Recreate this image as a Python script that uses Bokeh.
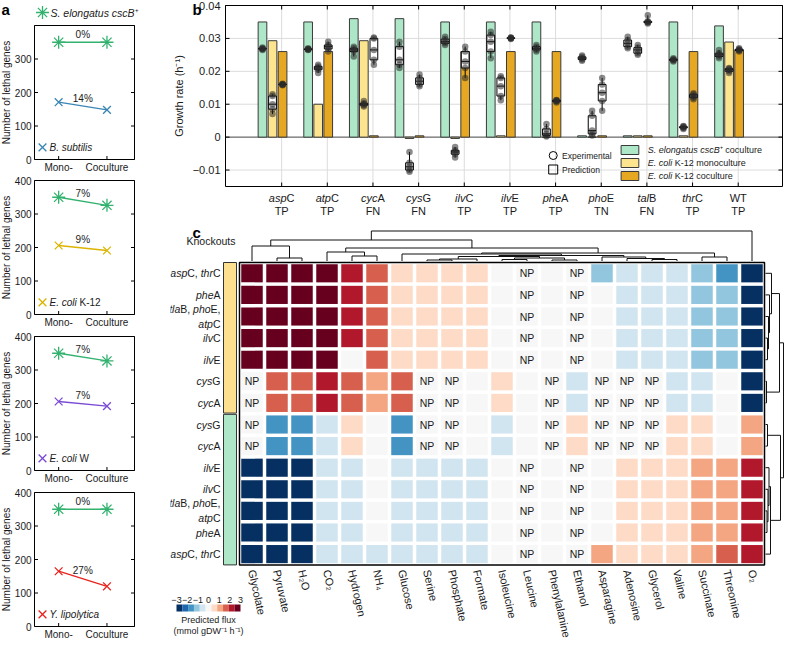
import numpy as np
from bokeh.plotting import figure
from bokeh.layouts import row, column
from bokeh.models import Range1d, Label, LinearColorMapper, ColumnDataSource
from bokeh.core.properties import value
from bokeh.embed import file_html
from bokeh.resources import INLINE

FONT = "Liberation Sans"
INK = "#1a1a1a"

# ---------------- panel a data ----------------
CULTURE_X = [1, 2]
CULTURE_LABELS = ["Mono-", "Coculture"]
LETHAL_TICKS = [0, 100, 200, 300, 400]
SELONG_LETHAL = [[350, 350], [350, 326], [350, 327], [350, 350]]
SELONG_CHANGE = ["0%", "7%", "7%", "0%"]
PARTNER_LETHAL = [[171, 148], [206, 191], [206, 192], [165, 120]]
PARTNER_CHANGE = ["14%", "9%", "7%", "27%"]
PARTNER_ITALIC = ["B. subtilis", "E. coli", "E. coli", "Y. lipolytica"]
PARTNER_PLAIN = ["", " K-12", " W", ""]
PARTNER_COLORS = ["#3a86b4", "#dcb400", "#7b4bd4", "#e8231d"]
SELONG_COLOR = "#33b26f"

# ---------------- panel b data ----------------
GENES = ["aspC", "atpC", "cycA", "cysG", "ilvC", "ilvE", "pheA", "phoE", "talB", "thrC", "WT"]
CALLS = ["TP", "TP", "FN", "FN", "TP", "TP", "TP", "TN", "FN", "TP", "TP"]
RATE_TICKS = [-0.01, 0, 0.01, 0.02, 0.03, 0.04]
PRED_SELONG_CO = [0.035, 0.035, 0.036, 0.036, 0.035, 0.035, 0.035, 0.0004, 0.0004, 0.035, 0.0338]
PRED_ECOLI_MONO = [0.0293, 0.010, 0.0293, -0.0004, -0.0004, 0.0004, 0.0, 0.0, 0.0004, 0.0004, 0.0289]
PRED_ECOLI_CO = [0.026, 0.026, 0.0004, 0.0004, 0.026, 0.026, 0.026, 0.0004, 0.0004, 0.026, 0.0265]
EXP_SELONG_CO = [
    [0.0265, 0.0268, 0.027, 0.0272, 0.0268],
    [0.0265, 0.0267, 0.0268, 0.0266, 0.027],
    [0.0245, 0.026, 0.0265, 0.027, 0.0275],
    [0.021, 0.022, 0.0235, 0.0275, 0.029],
    [0.028, 0.0285, 0.029, 0.0298, 0.0305],
    [0.024, 0.026, 0.029, 0.031, 0.032],
    [0.026, 0.0265, 0.027, 0.0275, 0.028],
    [0.0232, 0.0236, 0.024, 0.0244, 0.0248],
    [0.027, 0.0275, 0.0285, 0.0295, 0.0305],
    [0.023, 0.0233, 0.0235, 0.0237, 0.024],
    [0.024, 0.0245, 0.025, 0.0255, 0.0265],
]
EXP_ECOLI_MONO = [
    [0.007, 0.0085, 0.010, 0.0125, 0.013],
    [0.0195, 0.0205, 0.021, 0.0215, 0.022],
    [0.0093, 0.0097, 0.010, 0.0103, 0.011],
    [-0.0105, -0.010, -0.009, -0.0078, -0.0045],
    [-0.0062, -0.0052, -0.0045, -0.004, -0.003],
    [0.0112, 0.0125, 0.0155, 0.018, 0.0185],
    [0.0002, 0.0005, 0.001, 0.0025, 0.004],
    [0.0005, 0.001, 0.002, 0.0065, 0.008],
    [0.025, 0.0255, 0.0265, 0.0272, 0.028],
    [0.0025, 0.0028, 0.003, 0.0032, 0.0034],
    [0.0195, 0.020, 0.0205, 0.0208, 0.021],
]
EXP_ECOLI_CO = [
    [0.0158, 0.016, 0.0161, 0.016, 0.0162],
    [0.026, 0.0268, 0.0275, 0.028, 0.029],
    [0.022, 0.0235, 0.0265, 0.030, 0.0303],
    [0.0155, 0.016, 0.017, 0.018, 0.019],
    [0.018, 0.021, 0.023, 0.026, 0.0275],
    [0.0298, 0.030, 0.0302, 0.0301, 0.0303],
    [0.0105, 0.0108, 0.011, 0.0112, 0.0113],
    [0.008, 0.011, 0.0135, 0.016, 0.018],
    [0.0345, 0.0348, 0.035, 0.0352, 0.037],
    [0.0115, 0.012, 0.0125, 0.013, 0.0133],
    [0.026, 0.0263, 0.0265, 0.0267, 0.027],
]
BAR_COLORS = ["#aee6c8", "#fde58f", "#e6a823"]

# ---------------- panel c data ----------------
NUTRIENTS = ["Glycolate", "Pyruvate", "H\u2082O", "CO\u2082", "Hydrogen", "NH\u2084", "Glucose",
             "Serine", "Phosphate", "Formate", "Isoleucine", "Leucine", "Phenylalanine",
             "Ethanol", "Asparagine", "Adenosine", "Glycerol", "Valine", "Succinate",
             "Threonine", "O\u2082"]
KO_ECOLI = [["aspC", "thrC"], ["pheA"], ["tlaB", "phoE", "atpC"], ["ilvC"], ["ilvE"], ["cysG"], ["cycA"]]
KO_SELONG = [["cysG"], ["cycA"], ["ilvE"], ["ilvC"], ["tlaB", "phoE", "atpC"], ["pheA"], ["aspC", "thrC"]]
N = np.nan
FLUX_ECOLI = [
    [3, 3, 3, 3, 2.4, 1.8, 0.6, 0.6, 0.6, 0.6, 0, N, 0, N, -1.2, -0.6, -0.6, -0.6, -1.2, -1.8, -3],
    [3, 3, 3, 3, 2.4, 1.8, 0.6, 0.6, 0.6, 0.6, 0, N, 0, N, 0, -0.6, -0.6, -0.6, -1.2, -1.2, -3],
    [3, 3, 3, 3, 2.4, 1.8, 0.6, 0.6, 0.6, 0.6, 0, N, 0, N, 0, -0.6, -0.6, -0.6, -1.2, -1.2, -3],
    [3, 3, 3, 3, 2.4, 1.8, 0.6, 0.6, 0.6, 0.6, 0, N, 0, N, 0, -0.6, -0.6, -0.6, -1.2, -1.2, -3],
    [3, 3, 3, 3, 0, 1.8, 0.6, 0.6, 0.6, 0.6, 0, N, 0, N, 0, -0.6, -0.6, -0.6, -1.2, -1.2, -3],
    [N, 1.8, 1.8, 2.4, 1.8, 1.2, 1.8, N, N, 0, 0.6, 0, N, -0.6, N, N, N, -0.6, -0.6, 0, -3],
    [N, 1.8, 1.8, 2.4, 1.8, 1.2, 1.8, N, N, 0, 0.6, 0, N, -0.6, N, N, N, -0.6, -0.6, 0, -3],
]
FLUX_SELONG = [
    [N, -1.8, -1.8, -0.6, 0.6, 0, -1.8, N, N, 0, -0.6, 0, N, 0.6, N, N, N, 0.6, 0.6, 0, 1.2],
    [N, -1.8, -1.8, -0.6, 0.6, 0, -1.8, N, N, 0, -0.6, 0, N, 0.6, N, N, N, 0.6, 0.6, 0, 1.2],
    [-3, -3, -3, -0.6, -0.6, 0, -0.6, -0.6, -0.6, -0.6, 0, N, 0, N, 0, 0.6, 0.6, 0.6, 1.2, 1.2, 2.4],
    [-3, -3, -3, -0.6, -0.6, 0, -0.6, -0.6, -0.6, -0.6, 0, N, 0, N, 0, 0.6, 0.6, 0.6, 1.2, 1.2, 2.4],
    [-3, -3, -3, -0.6, -0.6, 0, -0.6, -0.6, -0.6, -0.6, 0, N, 0, N, 0, 0.6, 0.6, 0.6, 1.2, 1.2, 2.4],
    [-3, -3, -3, -0.6, -0.6, 0, -0.6, -0.6, -0.6, -0.6, 0, N, 0, N, 0, 0.6, 0.6, 0.6, 1.2, 1.2, 2.4],
    [-3, -3, -3, -0.6, -0.6, -0.6, -0.6, -0.6, -0.6, -0.6, 0, N, 0, N, 1.2, 0.6, 0.6, 0.6, 1.2, 1.8, 2.4],
]
# linkage trees: (height, left, right); leaves are indices
COL_TREE = (30, (21, (15, 0, (3, 1, 2)),
                 (13, (9, 3, (5, 4, 5)),
                  (8, (7, 6, (5.5, (4.5, (2, (1, 7, 8), 9), (3, (1.5, 10, 11), (1, 12, 13))),
                              (4, 14, (2.5, 15, (1.5, 16, 17))))),
                   (4, 18, 19)))),
            20)
ROW_TREE = (18, (14, (6, 0, (4, 1, (3, 2, (2, 3, 4)))), (1, 5, 6)),
            (15, (2, 7, 8), (5, (3.5, 9, (2.5, 10, (1.5, 11, 12))), 13)))
FLUX_TICKS = [-3, -2, -1, 0, 1, 2, 3]
FLUX_PALETTE = ['#053061', '#2166ac', '#4393c3', '#92c5de', '#d1e5f0', '#f7f7f7',
                '#fddbc7', '#f4a582', '#d6604d', '#b2182b', '#67001f']

# ---------------- helpers ----------------
CW = {' ': 278, '!': 278, '%': 889, '(': 333, ')': 333, '+': 584, ',': 278, '-': 333, '.': 278,
      '/': 278, ':': 278, 'A': 667, 'B': 667, 'C': 722, 'D': 722, 'E': 667, 'F': 611, 'G': 778,
      'H': 722, 'I': 278, 'J': 500, 'K': 667, 'L': 556, 'M': 833, 'N': 722, 'O': 778, 'P': 667,
      'Q': 778, 'R': 722, 'S': 667, 'T': 611, 'U': 722, 'V': 667, 'W': 944, 'X': 667, 'Y': 667,
      'Z': 611, 'a': 556, 'b': 556, 'c': 500, 'd': 556, 'e': 556, 'f': 278, 'g': 556, 'h': 556,
      'i': 222, 'j': 222, 'k': 500, 'l': 222, 'm': 833, 'n': 556, 'o': 556, 'p': 556, 'q': 556,
      'r': 333, 's': 500, 't': 278, 'u': 556, 'v': 500, 'w': 722, 'x': 500, 'y': 500, 'z': 500,
      '\u207a': 350, '\u207b': 350, '\u00b9': 350}


def tw(s, size):
    return sum(CW.get(c, 556) for c in s) / 1000.0 * size


def rich(p, pieces, x, y, size, align="left", baseline="middle", color=INK):
    total = sum(tw(t, size) for t, _ in pieces)
    off = {"left": 0.0, "right": -total, "center": -total / 2.0}[align]
    for t, st in pieces:
        lead = len(t) - len(t.lstrip(" "))
        s = t.strip(" ")
        if s:
            p.add_layout(Label(x=x, y=y, x_offset=off + tw(t[:lead], size),
                               text=s, text_font=FONT, text_font_size=f"{size}px",
                               text_font_style=st, text_color=color, text_align="left",
                               text_baseline=baseline))
        off += tw(t, size)


def gene_pieces(genes, trailing=""):
    out = []
    for k, g in enumerate(genes):
        if k:
            out.append((", ", "normal"))
        if g == "WT":
            out.append((g, "normal"))
        else:
            out += [(g[:-1], "italic"), (g[-1], "normal")]
    if trailing:
        out.append((trailing, "normal"))
    return out


def dendro(node, segs):
    if isinstance(node, int):
        return float(node), 0.0
    h, a, b = node
    pa, ha = dendro(a, segs)
    pb_, hb = dendro(b, segs)
    segs += [(pa, ha, pa, h), (pb_, hb, pb_, h), (pa, h, pb_, h)]
    return (pa + pb_) / 2.0, h


def make_fig(width, height, box, xlim, ylim):
    """Figure whose frame is the whole canvas; the data box sits at pixel box (l, t, r, b)."""
    l, t, r, b = box
    sx = (xlim[1] - xlim[0]) / float(r - l)
    sy = (ylim[1] - ylim[0]) / float(b - t)
    x0 = xlim[0] - l * sx
    y1 = ylim[1] + t * sy
    p = figure(width=width, height=height,
               x_range=Range1d(x0, xlim[1] + (width - r) * sx),
               y_range=Range1d(ylim[0] - (height - b) * sy, y1),
               output_backend="svg", toolbar_location=None, title=None, min_border=0,
               x_axis_location=None, y_axis_location=None)
    p.grid.visible = False
    p.outline_line_color = None
    fx = lambda px: x0 + px * sx
    fy = lambda py: y1 - py * sy
    return p, fx, fy, sx, sy


def txt(p, xs, ys, texts, size, align="center", baseline="middle", angle=0.0, style="normal",
        color=INK):
    p.text(x=list(xs), y=list(ys), text=list(texts), angle=angle, text_font=value(FONT),
           text_font_size=value(f"{size}px"), text_font_style=style, text_align=align,
           text_baseline=baseline, text_color=color)


def box_axes(p, xlim, ylim, sx, sy, xticks, yticks, tick=3.5, top_ticks=False, lw=1):
    n, m = len(yticks), len(xticks)
    p.segment([xlim[0]] * n, yticks, [xlim[0] + tick * sx] * n, yticks, line_color="black", line_width=lw)
    p.segment([xlim[1]] * n, yticks, [xlim[1] - tick * sx] * n, yticks, line_color="black", line_width=lw)
    p.segment(xticks, [ylim[0]] * m, xticks, [ylim[0] + tick * sy] * m, line_color="black", line_width=lw)
    if top_ticks:
        p.segment(xticks, [ylim[1]] * m, xticks, [ylim[1] - tick * sy] * m, line_color="black", line_width=lw)
    p.quad(left=xlim[0], right=xlim[1], bottom=ylim[0], top=ylim[1], fill_color=None,
           line_color="black", line_width=lw)


# ---------------- panel a ----------------
AX_XLIM = (0.5, 2.57)
AX_YLIM = (0, 400)
a_figs = []
for k in range(4):
    h = 172 if k == 0 else 156
    bt = 25 if k == 0 else 8
    box = (34, bt, 134, bt + 134)
    p, fx, fy, sx, sy = make_fig(170, h, box, AX_XLIM, AX_YLIM)
    sel = SELONG_LETHAL[k]
    par = PARTNER_LETHAL[k]
    col = PARTNER_COLORS[k]
    box_axes(p, AX_XLIM, AX_YLIM, sx, sy, CULTURE_X, LETHAL_TICKS)
    yt = [t for t in LETHAL_TICKS if not (k == 0 and t == 400)]
    txt(p, [AX_XLIM[0] - 3 * sx] * len(yt), yt, [str(t) for t in yt], 10, align="right")
    txt(p, CULTURE_X, [AX_YLIM[0] - 8 * sy] * 2, CULTURE_LABELS, 10)
    txt(p, [fx(6)], [np.mean(AX_YLIM)], ["Number of lethal genes"], 10, angle=np.pi / 2)

    p.line(CULTURE_X, sel, line_color=SELONG_COLOR, line_width=1.3)
    p.scatter(CULTURE_X, sel, marker="asterisk", size=13, line_color=SELONG_COLOR, line_width=1.3)
    p.line(CULTURE_X, par, line_color=col, line_width=1.3)
    p.scatter(CULTURE_X, par, marker="x", size=11, line_color=col, line_width=1.3)
    txt(p, [1.5, 1.5], [np.mean(sel) + 22, np.mean(par) + 24],
        [SELONG_CHANGE[k], PARTNER_CHANGE[k]], 10)
    p.scatter([fx(42)], [36], marker="x", size=11, line_color=col, line_width=1.3)
    pieces = [(PARTNER_ITALIC[k], "italic")]
    if PARTNER_PLAIN[k]:
        pieces.append((PARTNER_PLAIN[k], "normal"))
    rich(p, pieces, fx(49), 36, 10)
    if k == 0:
        p.scatter([fx(42)], [fy(12)], marker="asterisk", size=13, line_color=SELONG_COLOR,
                  line_width=1.3)
        rich(p, [("S. elongatus cscB", "italic"), ("\u207a", "normal")], fx(50), fy(12), 10.5)
        txt(p, [fx(1)], [fy(0)], ["a"], 15, align="left", baseline="top", style="bold",
            color="black")
    a_figs.append(p)

# ---------------- panel b ----------------
BX_XLIM = (-0.23, 11.97)
BX_YLIM = (-0.015, 0.04)
pb, fxb, fyb, sxb, syb = make_fig(614, 222, (55, 5, 612, 186), BX_XLIM, BX_YLIM)
XT = list(range(1, 12))
# grid
pb.segment(XT, [BX_YLIM[0]] * 11, XT, [BX_YLIM[1]] * 11, line_color="#dcdcdc", line_width=1)
pb.segment([BX_XLIM[0]] * 6, RATE_TICKS, [BX_XLIM[1]] * 6, RATE_TICKS, line_color="#dcdcdc",
           line_width=1)
pb.segment([BX_XLIM[0]], [0], [BX_XLIM[1]], [0], line_color="#555555", line_width=1)

OFFS = [-0.42, -0.2, 0.02]
BW = 0.19
for c, pred in enumerate([PRED_SELONG_CO, PRED_ECOLI_MONO, PRED_ECOLI_CO]):
    xs = np.arange(1, 12) + OFFS[c]
    pb.vbar(x=xs, top=pred, bottom=0, width=BW, fill_color=BAR_COLORS[c],
            line_color="#3a3a3a", line_width=1)
for c, exp in enumerate([EXP_SELONG_CO, EXP_ECOLI_MONO, EXP_ECOLI_CO]):
    xs = np.arange(1, 12) + OFFS[c]
    q = np.array([np.percentile(v, [25, 50, 75]) for v in exp])
    lo = np.array([min(v) for v in exp])
    hi = np.array([max(v) for v in exp])
    bw = 0.17
    pb.segment(xs, lo, xs, hi, line_color="black", line_width=1)
    pb.quad(left=xs - bw / 2, right=xs + bw / 2, bottom=q[:, 0], top=q[:, 2],
            fill_color="white", line_color="black", line_width=1)
    pb.segment(xs - bw / 2, q[:, 1], xs + bw / 2, q[:, 1], line_color="black", line_width=1)
    dx, dy = [], []
    for kk, v in enumerate(exp):
        dx += [xs[kk]] * len(v)
        dy += list(v)
    pb.scatter(dx, dy, size=6.5, fill_color="#2a2a2a", fill_alpha=0.55, line_color=None)

box_axes(pb, BX_XLIM, BX_YLIM, sxb, syb, XT, RATE_TICKS, tick=4, top_ticks=True)
rate_labels = ["0" if t == 0 else (("\u2212%.2f" % -t) if t < 0 else "%.2f" % t) for t in RATE_TICKS]
txt(pb, [BX_XLIM[0] - 5 * sxb] * 6, RATE_TICKS, rate_labels, 11, align="right")
txt(pb, [fxb(8)], [np.mean(BX_YLIM)], ["Growth rate (h\u207b\u00b9)"], 11, angle=np.pi / 2)
for k, g in enumerate(GENES):
    rich(pb, gene_pieces([g]), k + 1, fyb(197), 11, align="center")
txt(pb, XT, [fyb(210)] * 11, CALLS, 11)


def bx(px):
    return BX_XLIM[0] + (px - 233) * (BX_XLIM[1] - BX_XLIM[0]) / 566.0


def by(py):
    return BX_YLIM[1] - (py - 13) * (BX_YLIM[1] - BX_YLIM[0]) / 181.0


pb.scatter([bx(566)], [by(163)], marker="circle", size=8, fill_color=None, line_color="black")
pb.scatter([bx(566)], [by(177)], marker="square", size=9, fill_color=None, line_color="black")
rich(pb, [("Experimental", "normal")], bx(575), by(163), 8.5)
rich(pb, [("Prediction", "normal")], bx(575), by(177), 8.5)
LEG_TEXT = [
    [("S. elongatus cscB", "italic"), ("\u207a", "normal"), (" coculture", "normal")],
    [("E. coli", "italic"), (" K-12 monoculture", "normal")],
    [("E. coli", "italic"), (" K-12 coculture", "normal")],
]
for c in range(3):
    t = 153 + 13 * c
    pb.quad(left=bx(635), right=bx(653), top=by(t), bottom=by(t + 9),
            fill_color=BAR_COLORS[c], line_color="#3a3a3a")
    rich(pb, LEG_TEXT[c], bx(662), by(t + 4.5), 9)
txt(pb, [fxb(22)], [fyb(0)], ["b"], 15, align="left", baseline="top", style="bold", color="black")

# ---------------- panel c ----------------
FLUX = FLUX_ECOLI + FLUX_SELONG
KO = KO_ECOLI + KO_SELONG
NR, NC = len(FLUX), len(NUTRIENTS)
PXX, PXY = 25.0, 21.6
pc, cx, cy, sxc, syc = make_fig(614, 420, (69, 40, 69 + NC * PXX, 40 + NR * PXY), (0, NC), (0, NR))

mapper = LinearColorMapper(palette=FLUX_PALETTE, low=-3.3, high=3.3, nan_color="#f7f7f7")
hx, hy, hv = [], [], []
for j, rv in enumerate(FLUX):
    for i, v in enumerate(rv):
        hx.append(i + 0.5)
        hy.append(NR - 0.5 - j)
        hv.append(v)
hv = np.array(hv, dtype=float)
hx = np.array(hx)
hy = np.array(hy)
src = ColumnDataSource(dict(x=hx, y=hy, v=hv))
pc.rect("x", "y", width=0.86, height=0.84, source=src,
        fill_color={"field": "v", "transform": mapper}, line_color=None)
nan_mask = np.isnan(hv)
txt(pc, hx[nan_mask], hy[nan_mask], ["NP"] * int(nan_mask.sum()), 10.5)
pc.quad(left=0, right=NC, bottom=0, top=NR, fill_color=None, line_color="black", line_width=1.5)

# side group bars
pc.quad(left=-16 * sxc, right=-3 * sxc, bottom=len(KO_SELONG) + 0.03, top=NR,
        fill_color="#fde08f", line_color="#333333")
pc.quad(left=-16 * sxc, right=-3 * sxc, bottom=0, top=len(KO_SELONG) - 0.03,
        fill_color="#aee6c8", line_color="#333333")

# row labels
for j, genes in enumerate(KO):
    yc = NR - 0.5 - j
    if len(genes) == 3:
        rich(pc, gene_pieces(genes[:2], ","), -19 * sxc, yc + 7.5 * syc, 10.5, align="right")
        rich(pc, gene_pieces(genes[2:]), -19 * sxc, yc - 7.5 * syc, 10.5, align="right")
    else:
        rich(pc, gene_pieces(genes), -19 * sxc, yc, 10.5, align="right")
rich(pc, [("Knockouts", "normal")], -4 * sxc, NR + 22 * syc, 10.5, align="right")

# column labels
txt(pc, np.arange(NC) + 0.5, [-5 * syc] * NC, NUTRIENTS, 11, align="left", angle=-1.353)

# dendrograms
segs = []
dendro(COL_TREE, segs)
pc.segment([s[0] + 0.5 for s in segs], [NR + (1.5 + s[1]) * syc for s in segs],
           [s[2] + 0.5 for s in segs], [NR + (1.5 + s[3]) * syc for s in segs],
           line_color="#111111", line_width=1)
segs = []
dendro(ROW_TREE, segs)
pc.segment([NC + (1 + s[1]) * sxc for s in segs], [NR - 0.5 - s[0] for s in segs],
           [NC + (1 + s[3]) * sxc for s in segs], [NR - 0.5 - s[2] for s in segs],
           line_color="#111111", line_width=1)

# colour bar
edges = np.linspace(FLUX_TICKS[0], FLUX_TICKS[-1], len(FLUX_PALETTE) + 1)


def cbx(v):
    return cx(6 + (v - FLUX_TICKS[0]) / float(FLUX_TICKS[-1] - FLUX_TICKS[0]) * 64)


pc.quad(left=[cbx(e) for e in edges[:-1]], right=[cbx(e) for e in edges[1:]],
        top=cy(382), bottom=cy(389), fill_color=FLUX_PALETTE, line_color=None)
txt(pc, [cbx(t) for t in FLUX_TICKS], [cy(380)] * len(FLUX_TICKS),
    [("\u2212%d" % -t) if t < 0 else str(t) for t in FLUX_TICKS], 9, baseline="bottom")
txt(pc, [cbx(0), cbx(0)], [cy(397), cy(408)],
    ["Predicted flux", "(mmol gDW\u207b\u00b9 h\u207b\u00b9)"], 9)
txt(pc, [cx(22)], [cy(1)], ["c"], 15, align="left", baseline="top", style="bold", color="black")

layout = row(column(*a_figs), column(pb, pc))
open("out.html", "w").write(file_html(layout, INLINE))
